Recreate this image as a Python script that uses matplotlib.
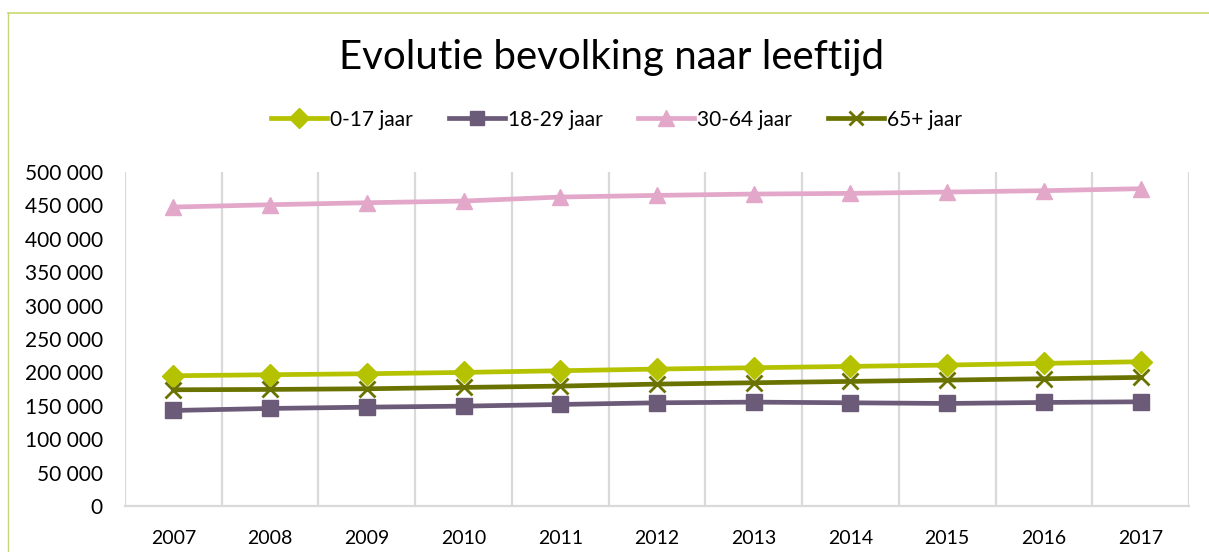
import matplotlib.pyplot as plt
from matplotlib.lines import Line2D
from matplotlib.ticker import FuncFormatter

# Data
years = ['2007', '2008', '2009', '2010', '2011', '2012', '2013', '2014', '2015', '2016', '2017']
age_0_17 = [195000, 196500, 198000, 200000, 202500, 205000, 207000, 209000, 211000, 213500, 216000]
age_18_29 = [143000, 146000, 148000, 149500, 152000, 154500, 155500, 154500, 153500, 155000, 156000]
age_30_64 = [447500, 451000, 454000, 456500, 462500, 465000, 467000, 468000, 470000, 472000, 475000]
age_65_plus = [174000, 174500, 175500, 177500, 179500, 182500, 184500, 186500, 188500, 190500, 192500]

series = [
    ('0-17 jaar', age_0_17, '#B5C200', 'D', 11),
    ('18-29 jaar', age_18_29, '#6C5A79', 's', 11),
    ('30-64 jaar', age_30_64, '#E3A7C9', '^', 12),
    ('65+ jaar', age_65_plus, '#6B7300', 'x', 11),
]

plt.rcParams['font.family'] = ['Lato', 'DejaVu Sans']

fig = plt.figure(figsize=(12.09, 5.52), dpi=100)
ax = fig.add_axes([125 / 1209, 1 - 506 / 552, (1189 - 125) / 1209, (506 - 172) / 552])

x = list(range(len(years)))
for name, vals, color, marker, ms in series:
    mew = 2 if marker == 'x' else 1
    ax.plot(x, vals, color=color, lw=3.4, marker=marker, markersize=ms,
            markeredgewidth=mew, markeredgecolor=color, label=name, zorder=3)

ax.set_xlim(-0.5, len(years) - 0.5)
ax.set_ylim(0, 500000)
ax.set_yticks(range(0, 500001, 50000))
ax.yaxis.set_major_formatter(FuncFormatter(lambda v, p: f'{int(v):,}'.replace(',', ' ')))
ax.set_xticks(x)
ax.set_xticklabels(years)

# vertical gridlines between the categories
for b in [i - 0.5 for i in range(len(years) + 1)]:
    ax.axvline(b, color='#D9D9D9', lw=1.6, zorder=1)

for side in ['top', 'right', 'left']:
    ax.spines[side].set_visible(False)
ax.spines['bottom'].set_color('#D9D9D9')
ax.spines['bottom'].set_linewidth(1.6)

ax.tick_params(axis='y', length=0, pad=16, labelsize=15)
ax.tick_params(axis='x', length=0, pad=17, labelsize=14)

fig.text(0.506, 0.895, 'Evolutie bevolking naar leeftijd', ha='center', va='center',
         fontsize=29, color='black')

handles = [Line2D([], [], color=c, lw=3.4, marker=m, markersize=ms * 0.95,
                  markeredgewidth=2 if m == 'x' else 1, markeredgecolor=c)
           for _, _, c, m, ms in series]
fig.legend(handles, [s[0] for s in series], loc='center', bbox_to_anchor=(0.510, 0.783),
           ncol=4, frameon=False, fontsize=15, handlelength=2.7, handletextpad=0.15,
           columnspacing=1.7)

# outer border lines
fig.add_artist(Line2D([8 / 1209, 1], [1 - 13 / 552, 1 - 13 / 552], color='#CDDA6E', lw=1.2))
fig.add_artist(Line2D([8 / 1209, 8 / 1209], [0, 1 - 13 / 552], color='#C9D37A', lw=1.0))

fig.savefig('out.png', dpi=100)
